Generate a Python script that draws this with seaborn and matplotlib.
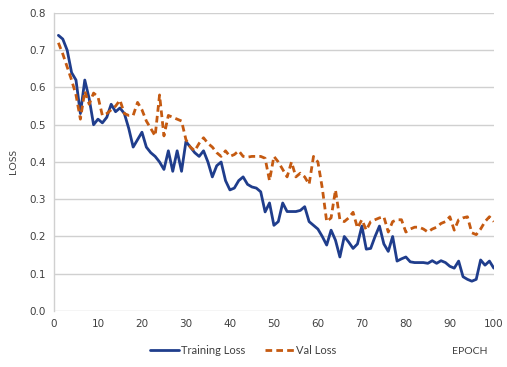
import numpy as np
import pandas as pd
import seaborn as sns
import matplotlib.pyplot as plt

epochs = list(range(1, 101))

training_loss = [
    0.74, 0.73, 0.70, 0.64, 0.62, 0.53, 0.62, 0.57, 0.50, 0.515,
    0.505, 0.52, 0.555, 0.535, 0.545, 0.53, 0.49, 0.44, 0.46, 0.48,
    0.44, 0.425, 0.415, 0.40, 0.38, 0.43, 0.375, 0.43, 0.375, 0.455,
    0.44, 0.425, 0.415, 0.43, 0.40, 0.36, 0.39, 0.40, 0.35, 0.325,
    0.33, 0.35, 0.36, 0.34, 0.333, 0.33, 0.32, 0.266, 0.29, 0.23,
    0.24, 0.29, 0.267, 0.267, 0.267, 0.27, 0.28, 0.24, 0.23, 0.22,
    0.20, 0.177, 0.217, 0.19, 0.145, 0.20, 0.185, 0.168, 0.18, 0.228,
    0.166, 0.168, 0.20, 0.228, 0.18, 0.16, 0.20, 0.134, 0.14, 0.145,
    0.132, 0.13, 0.13, 0.13, 0.128, 0.135, 0.128, 0.135, 0.13, 0.12,
    0.115, 0.134, 0.092, 0.085, 0.08, 0.085, 0.137, 0.123, 0.134, 0.115,
]

val_loss = [
    0.72, 0.69, 0.655, 0.62, 0.58, 0.515, 0.59, 0.555, 0.585, 0.575,
    0.525, 0.53, 0.54, 0.55, 0.566, 0.53, 0.525, 0.525, 0.56, 0.54,
    0.51, 0.49, 0.47, 0.58, 0.47, 0.525, 0.52, 0.515, 0.51, 0.46,
    0.44, 0.43, 0.45, 0.465, 0.45, 0.44, 0.425, 0.415, 0.43, 0.415,
    0.42, 0.43, 0.415, 0.413, 0.415, 0.415, 0.415, 0.41, 0.35, 0.415,
    0.40, 0.38, 0.36, 0.40, 0.36, 0.37, 0.36, 0.34, 0.415, 0.40,
    0.33, 0.24, 0.25, 0.325, 0.245, 0.24, 0.25, 0.265, 0.223, 0.245,
    0.217, 0.24, 0.245, 0.25, 0.253, 0.212, 0.24, 0.245, 0.245, 0.212,
    0.22, 0.225, 0.225, 0.22, 0.212, 0.22, 0.225, 0.235, 0.24, 0.253,
    0.217, 0.245, 0.25, 0.253, 0.21, 0.205, 0.22, 0.24, 0.253, 0.24,
]

x_ticks = list(range(0, 101, 10))
y_ticks = [0.0, 0.1, 0.2, 0.3, 0.4, 0.5, 0.6, 0.7, 0.8]

sns.set_theme(style="white")
plt.rcParams['font.family'] = ['DejaVu Sans']

fig = plt.figure(figsize=(5.07, 3.67), dpi=100)
ax = fig.add_axes([0.1065, 0.1526, 0.8675, 0.812])

# Training loss (solid) and validation loss (dashed)
sns.lineplot(x=epochs, y=training_loss, ax=ax, color="#1f3d8c", linewidth=2.0,
             label="Training Loss")
sns.lineplot(x=epochs, y=val_loss, ax=ax, color="#c55a11", linewidth=2.0,
             label="Val Loss", linestyle=(0, (2.4, 1.5)))

ax.set_xlim(0, 100)
ax.set_ylim(0, 0.8)
ax.set_xticks(x_ticks)
ax.set_yticks(y_ticks)
ax.set_yticklabels([f"{v:.1f}" for v in y_ticks])
ax.tick_params(axis="both", labelsize=7.5, colors="#404040", length=0, pad=6)

ax.yaxis.grid(True, color="#d0d0d0", linewidth=1.0)
ax.xaxis.grid(False)
ax.set_axisbelow(True)
for s in ["top", "right", "bottom"]:
    ax.spines[s].set_visible(False)
ax.spines["left"].set_color("#d0d0d0")
ax.spines["left"].set_linewidth(1.0)

ax.set_ylabel("LOSS", fontsize=7.5, color="#404040", family=["Lato", "DejaVu Sans"])
ax.yaxis.set_label_coords(-0.082, 0.5)
ax.set_xlabel("")
fig.text(0.927, 0.035, "EPOCH", fontsize=7.5, color="#404040", ha="center",
         family=["Lato", "DejaVu Sans"])

leg = ax.legend(loc="upper center", bbox_to_anchor=(0.43, -0.08), ncol=2, frameon=False,
                handlelength=2.6, columnspacing=1.8, handletextpad=0.2,
                prop={"family": ["Lato", "DejaVu Sans"], "size": 8})
for t in leg.get_texts():
    t.set_color("#404040")

fig.savefig("out.png", dpi=100)
